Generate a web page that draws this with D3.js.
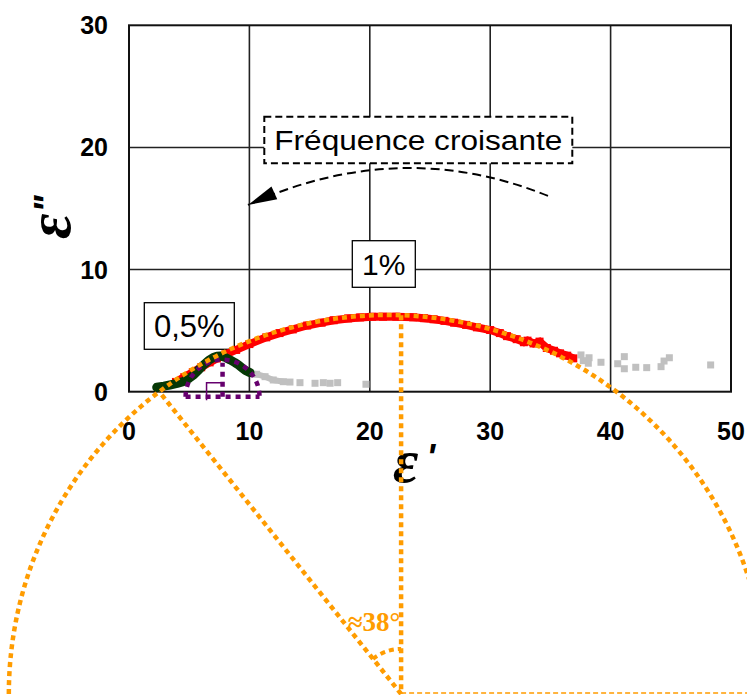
<!DOCTYPE html>
<html>
<head>
<meta charset="utf-8">
<script src="https://cdn.jsdelivr.net/npm/d3@7"></script>
<style>
  body { margin: 0; background: #fff; }
  svg { display: block; }
</style>
</head>
<body>
<div id="chart"></div>
<script>
const width = 747;
const height = 695;

// 1% series (red)
const red1 = [3.9, 4.6, 5.3, 6.0, 6.7, 7.3, 8.0, 8.9, 10.0, 11.4, 12.5, 13.6, 14.8, 16.0, 17.0, 18.2, 19.2, 20.2, 21.1, 22.2, 23.6, 24.5, 25.3, 26.2, 27.0, 28.0, 28.9, 30.0, 30.8, 31.4, 32.2, 32.8, 33.1, 33.6, 34.1, 34.7, 35.3, 35.8, 36.4, 36.9];
const red2 = [0.80, 1.20, 1.60, 2.00, 2.40, 2.72, 3.05, 3.42, 3.90, 4.45, 4.80, 5.10, 5.42, 5.65, 5.85, 6.00, 6.08, 6.13, 6.14, 6.14, 6.09, 6.02, 5.93, 5.80, 5.65, 5.47, 5.27, 5.05, 4.80, 4.55, 4.30, 4.05, 4.18, 3.95, 4.10, 3.58, 3.35, 3.14, 2.95, 2.73];

// 0,5% series (dark green)
const green1 = [2.3, 2.9, 3.4, 4.0, 4.5, 5.0, 5.4, 5.8, 6.2, 6.6, 7.0, 7.3, 7.6, 8.0, 8.4, 8.8, 9.1, 9.4, 9.7, 10.05];
const green2 = [0.36, 0.45, 0.55, 0.68, 0.82, 1.10, 1.40, 1.80, 2.20, 2.55, 2.80, 2.90, 2.92, 2.80, 2.60, 2.38, 2.19, 1.95, 1.72, 1.56];

// grey points (excluded parts)
const greyA1 = [10.05, 10.6, 11.3, 11.98, 12.82, 13.37, 14.2, 15.45, 16.14, 16.7, 17.33, 19.68];
const greyA2 = [1.56, 1.43, 1.23, 0.96, 0.82, 0.79, 0.74, 0.69, 0.74, 0.69, 0.74, 0.61];
const greyB1 = [37.54, 37.73, 38.21, 38.15, 39.2, 40.59, 41.14, 41.14, 42.09, 43.0, 44.19, 44.44, 44.88, 48.31];
const greyB2 = [3.01, 2.54, 2.78, 2.33, 2.41, 2.29, 2.87, 1.88, 2.0, 1.97, 2.05, 2.51, 2.78, 2.19];

// Cole-Cole arcs
const bigArc = { cx: 21.5, cy: -24.75, r: 31.48 };
const smallArc = { cx: 7.77, cy: -0.41, r: 3.07 };
const vertexX = 22.6;

const xTicks = [0, 10, 20, 30, 40, 50];
const yTicks = [0, 10, 20, 30];

const svg = d3.select("#chart").append("svg")
  .attr("width", width)
  .attr("height", height);

const x = d3.scaleLinear().domain([0, 50]).range([129, 731]);
const y = d3.scaleLinear().domain([0, 30]).range([391.7, 25.3]);
const px = v => x(v) - x(0);

// grid
svg.append("g").selectAll("line.v")
  .data(xTicks.slice(1, -1))
  .enter().append("line")
  .attr("x1", d => x(d)).attr("x2", d => x(d))
  .attr("y1", y(0)).attr("y2", y(30))
  .attr("stroke", "#222").attr("stroke-width", 1.6);
svg.append("g").selectAll("line.h")
  .data(yTicks.slice(1, -1))
  .enter().append("line")
  .attr("x1", x(0)).attr("x2", x(50))
  .attr("y1", d => y(d)).attr("y2", d => y(d))
  .attr("stroke", "#222").attr("stroke-width", 1.6);
svg.append("rect")
  .attr("x", x(0)).attr("y", y(30))
  .attr("width", x(50) - x(0)).attr("height", y(0) - y(30))
  .attr("fill", "none").attr("stroke", "#111").attr("stroke-width", 2);

// tick labels
svg.append("g").selectAll("text")
  .data(xTicks)
  .enter().append("text")
  .attr("x", d => x(d)).attr("y", y(0) + 48)
  .attr("text-anchor", "middle")
  .style("font", "bold 25px 'Liberation Sans', Arial, sans-serif")
  .text(d => d);
svg.append("g").selectAll("text")
  .data(yTicks)
  .enter().append("text")
  .attr("x", 108).attr("y", d => y(d))
  .attr("dy", "0.36em")
  .attr("text-anchor", "end")
  .style("font", "bold 25px 'Liberation Sans', Arial, sans-serif")
  .text(d => d);

// axis titles
const epsFont = "italic bold 62px 'Liberation Serif', 'Times New Roman', serif";
const primeFont = "italic bold 36px 'Liberation Sans', Arial, sans-serif";
const xt = svg.append("text")
  .attr("x", 393).attr("y", 482)
  .style("font", epsFont);
xt.append("tspan").text("ε");
xt.append("tspan").attr("dx", 8).attr("dy", -12).style("font", primeFont).text("'");
const yt = svg.append("text")
  .attr("transform", "translate(70,239) rotate(-90)")
  .style("font", epsFont);
yt.append("tspan").text("ε");
yt.append("tspan").attr("dx", 1).attr("dy", -10).style("font", primeFont).text("\"");

// annotation: arrow
const a0 = [34.8, 16.03], ac = [22.5, 20.94], a1 = [9.88, 15.29];
const ap = d3.path();
ap.moveTo(x(a0[0]), y(a0[1]));
ap.quadraticCurveTo(x(ac[0]), y(ac[1]), x(a1[0]), y(a1[1]));
svg.append("path").attr("d", ap.toString())
  .attr("fill", "none").attr("stroke", "#000").attr("stroke-width", 2)
  .attr("stroke-dasharray", "9,5");
{
  const tx = x(a1[0]), ty = y(a1[1]);
  let dx = tx - x(ac[0]), dy = ty - y(ac[1]);
  const L = Math.hypot(dx, dy); dx /= L; dy /= L;
  const bx = tx - 29 * dx, by = ty - 29 * dy;
  svg.append("polygon")
    .attr("points", [[tx, ty], [bx - 7 * dy, by + 7 * dx], [bx + 7 * dy, by - 7 * dx]].map(p => p.join(",")).join(" "))
    .attr("fill", "#000");
}

// text boxes
function box(x0, y0, w, h, label, size, dashed, tw) {
  svg.append("rect").attr("x", x0).attr("y", y0).attr("width", w).attr("height", h)
    .attr("fill", "#fff").attr("stroke", "#000")
    .attr("stroke-width", dashed ? 2 : 1.3)
    .attr("stroke-dasharray", dashed ? "7,4" : null);
  const t = svg.append("text").attr("x", x0 + w / 2).attr("y", y0 + h / 2)
    .attr("dy", "0.36em").attr("text-anchor", "middle")
    .style("font", size + "px 'Liberation Sans', Arial, sans-serif")
    .text(label);
  if (tw) t.attr("textLength", tw).attr("lengthAdjust", "spacingAndGlyphs");
}
box(264.3, 116.7, 308, 46.6, "Fréquence croisante", 27, true, 288);
box(352.3, 240.7, 63, 46.6, "1%", 30, false);
box(144.3, 302.7, 90, 46.6, "0,5%", 31, false);

// grey points
const sq = 7;
function squares(xs, ys, color, s) {
  svg.append("g").selectAll("rect")
    .data(xs.map((v, i) => [v, ys[i]]))
    .enter().append("rect")
    .attr("x", d => x(d[0]) - s / 2).attr("y", d => y(d[1]) - s / 2)
    .attr("width", s).attr("height", s)
    .attr("fill", color);
}
const line = d3.line().x(d => x(d[0])).y(d => y(d[1]));
svg.append("path").datum(greyA1.slice(0, 6).map((v, i) => [v, greyA2[i]]))
  .attr("d", line).attr("fill", "none").attr("stroke", "#c0c0c0").attr("stroke-width", 6);
squares(greyA1, greyA2, "#c0c0c0", sq);
squares(greyB1, greyB2, "#c0c0c0", sq);

// red series
svg.append("path").datum(red1.map((v, i) => [v, red2[i]]))
  .attr("d", line).attr("fill", "none").attr("stroke", "#ff0000").attr("stroke-width", 8);
squares(red1, red2, "#ff0000", 8);

// green series
svg.append("path").datum(green1.map((v, i) => [v, green2[i]]))
  .attr("d", line).attr("fill", "none").attr("stroke", "#063806").attr("stroke-width", 9)
  .attr("stroke-linejoin", "round").attr("stroke-linecap", "round");

// purple small arc construction
const purple = "#66006e";
{
  const cx = x(smallArc.cx), cy = y(smallArc.cy), r = px(smallArc.r);
  const p = d3.path();
  p.arc(cx, cy, r, Math.PI, 2 * Math.PI);
  svg.append("path").attr("d", p.toString()).attr("fill", "none")
    .attr("stroke", purple).attr("stroke-width", 4.5).attr("stroke-dasharray", "5,5");
  svg.append("line").attr("x1", cx - r).attr("x2", cx + r).attr("y1", cy).attr("y2", cy)
    .attr("stroke", purple).attr("stroke-width", 4.5).attr("stroke-dasharray", "5,5");
  svg.append("line").attr("x1", cx).attr("x2", cx).attr("y1", cy).attr("y2", cy - r + 3)
    .attr("stroke", purple).attr("stroke-width", 4.5).attr("stroke-dasharray", "5,5");
  svg.append("path")
    .attr("d", `M${cx},${cy - 14}H${cx - 16}V${cy + 3.5}`)
    .attr("fill", "none").attr("stroke", purple).attr("stroke-width", 1.5);
}

// orange Cole-Cole arc and angle construction
const orange = "#ff9c00";
{
  const cx = x(bigArc.cx), cy = y(bigArc.cy), r = px(bigArc.r);
  const p = d3.path();
  p.arc(cx, cy, r, Math.PI, 2 * Math.PI);
  svg.append("path").attr("d", p.toString()).attr("fill", "none")
    .attr("stroke", orange).attr("stroke-width", 4.5).attr("stroke-dasharray", "5,4");

  const vx = x(vertexX), vy = cy;
  const topY = cy - Math.sqrt(r * r - (vx - cx) ** 2);
  const crossX = cx - Math.sqrt(r * r - (cy - y(0)) ** 2);

  svg.append("line").attr("x1", vx).attr("x2", vx).attr("y1", topY).attr("y2", vy)
    .attr("stroke", orange).attr("stroke-width", 4.5).attr("stroke-dasharray", "5,4");
  svg.append("line").attr("x1", vx).attr("x2", crossX).attr("y1", vy).attr("y2", y(0))
    .attr("stroke", orange).attr("stroke-width", 4.5).attr("stroke-dasharray", "5,4");
  svg.append("line").attr("x1", vx).attr("x2", width).attr("y1", vy - 1).attr("y2", vy - 1)
    .attr("stroke", orange).attr("stroke-width", 1.5).attr("stroke-dasharray", "5,3");

  const ang = Math.atan2(y(0) - vy, crossX - vx);
  const q = d3.path();
  q.arc(vx, vy, 45, ang, -Math.PI / 2);
  svg.append("path").attr("d", q.toString()).attr("fill", "none")
    .attr("stroke", orange).attr("stroke-width", 4).attr("stroke-dasharray", "5,4");

  svg.append("text").attr("x", vx - 27).attr("y", vy - 63)
    .attr("text-anchor", "middle")
    .attr("fill", orange)
    .style("font", "bold 27px 'Liberation Serif', 'Times New Roman', serif")
    .text("≈38°");
}
</script>
</body>
</html>
